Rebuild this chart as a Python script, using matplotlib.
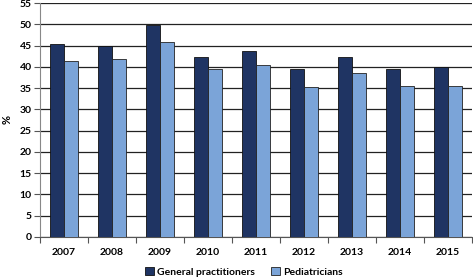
import matplotlib
matplotlib.use("Agg")
import matplotlib.pyplot as plt
import numpy as np
from matplotlib.patches import Patch

years = ["2007", "2008", "2009", "2010", "2011", "2012", "2013", "2014", "2015"]
general_practitioners = [45.4, 44.9, 49.9, 42.4, 43.8, 39.5, 42.3, 39.5, 40.0]
pediatricians = [41.4, 41.8, 45.8, 39.5, 40.4, 35.3, 38.6, 35.4, 35.4]
yticks = list(range(0, 56, 5))

plt.rcParams['font.family'] = ['Lato', 'DejaVu Sans']
fig = plt.figure(figsize=(4.73, 2.79), dpi=100)
ax = fig.add_axes([40/473, 1-237/279, 432/473, 234/279])

x = np.arange(len(years))
w = 0.29
gp_color = "#1F3463"
ped_color = "#7BA4D8"
ax.bar(x - w/2, general_practitioners, w, color=gp_color, edgecolor="#111111", linewidth=0.6, zorder=3)
ax.bar(x + w/2, pediatricians, w, color=ped_color, edgecolor="#222222", linewidth=0.6, zorder=3)

ax.set_xlim(-0.5, len(years) - 0.5)
ax.set_ylim(0, 55)
ax.set_yticks(yticks)
ax.set_yticklabels([str(t) for t in yticks], fontsize=7.5, fontweight='bold')
ax.yaxis.grid(True, color="#222222", linewidth=0.9, zorder=0)
ax.set_axisbelow(True)

ax.set_xticks(x)
ax.set_xticklabels(years, fontsize=7.5, fontweight='bold')
ax.set_xticks(np.arange(-0.5, len(years)), minor=True)
ax.tick_params(axis='x', which='major', length=0, pad=8)
ax.tick_params(axis='x', which='minor', length=4, color="#555555", width=0.8)
ax.tick_params(axis='y', length=4, color="#555555", width=0.8, pad=2)

for s in ['top', 'right']:
    ax.spines[s].set_visible(False)
ax.spines['left'].set_color("#888888")
ax.spines['bottom'].set_color("#555555")

ax.set_ylabel("%", fontsize=8, fontweight='bold', labelpad=5)

handles = [Patch(facecolor=gp_color, edgecolor="#111111", linewidth=0.6),
           Patch(facecolor=ped_color, edgecolor="#222222", linewidth=0.6)]
fig.legend(handles, ["General practitioners", "Pediatricians"], loc='center',
           bbox_to_anchor=(244/473, 1-272/279), ncol=2, frameon=False,
           handlelength=0.8, handleheight=0.8, handletextpad=0.3,
           columnspacing=1.6, prop={'weight': 'bold', 'size': 7.5})

fig.savefig("out.png", dpi=100)
